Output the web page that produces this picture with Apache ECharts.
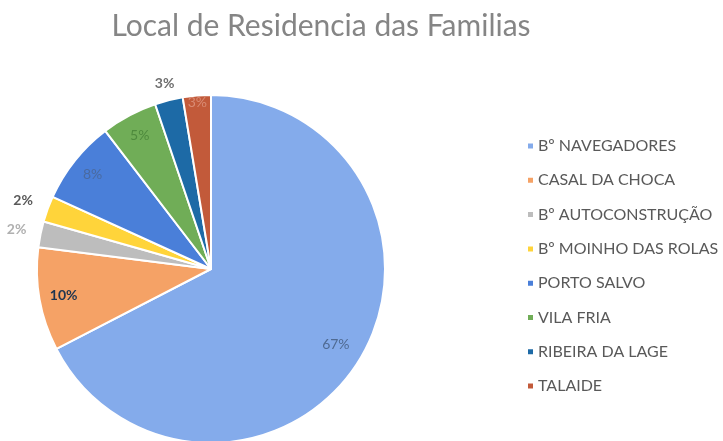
<!DOCTYPE html>
<html>
<head>
<meta charset="utf-8">
<script src="https://cdn.jsdelivr.net/npm/echarts@6/dist/echarts.min.js"></script>
<style>
  html, body { margin: 0; padding: 0; background: #fff; }
  #chart { width: 723px; height: 441px; }
</style>
</head>
<body>
<div id="chart"></div>
<script>
// data (share of families, %)
const titleText = 'Local de Residencia das Familias'
const places = ['Bº NAVEGADORES', 'CASAL DA CHOCA', 'Bº AUTOCONSTRUÇÃO', 'Bº MOINHO DAS ROLAS',
                'PORTO SALVO', 'VILA FRIA', 'RIBEIRA DA LAGE', 'TALAIDE']
const shares = [67.4, 9.6, 2.4, 2.4, 7.8, 5.2, 2.6, 2.6]

const colors = ['#84abeb', '#f5a266', '#bdbdbd', '#ffd43a', '#4a7fd9', '#70ad57', '#1d6aa6', '#c25a3a']
// where each label sits, as a fraction of the radius, and its colour
const labelRadius = [0.84, 0.86, 1.14, 1.15, 0.87, 0.87, 1.1, 0.96]
const labelColors = ['#4f6a92', '#1f3550', '#b0b0b0', '#595959', '#4a6aa0', '#4e8a3d', '#6f6f6f', '#d98b74']
const labelBold = [false, true, true, true, false, false, true, false]

const cx = 211, cy = 269, R = 174

const chart = echarts.init(document.getElementById('chart'))

const total = shares.reduce((a, b) => a + b, 0)
const midAngles = []
let acc = 0
shares.forEach((v) => {
  midAngles.push((acc + v / 2) / total * Math.PI * 2)
  acc += v
})

const option = {
  animation: false
  , color: colors
  , title: {
    text: titleText
    , left: 316
    , textAlign: 'center'
    , top: 6
    , textStyle: {
      fontFamily: 'Lato'
      , fontSize: 30
      , fontWeight: 'normal'
      , color: '#858585'
    }
  }
  , legend: {
    orient: 'vertical'
    , left: 521
    , top: 133
    , itemWidth: 7
    , itemHeight: 7
    , itemGap: 18.3
    , icon: 'rect'
    , textStyle: {
      fontFamily: 'Lato'
      , fontSize: 16
      , color: '#595959'
      , padding: [0, 0, 0, -1]
    }
    , data: places
  }
  , series: [{
    type: 'pie'
    , center: [cx, cy]
    , radius: R
    , startAngle: 90
    , clockwise: true
    , itemStyle: { borderColor: '#fff', borderWidth: 2 }
    , label: {
      show: true
      , position: 'inside'
      , fontFamily: 'Lato'
      , fontSize: 14
      , formatter: (p) => Math.round(p.percent) + '%'
    }
    , labelLine: { show: false }
    , emphasis: { disabled: true }
    , labelLayout: (p) => {
      const i = p.dataIndex
      const a = midAngles[i]
      return {
        x: cx + Math.sin(a) * R * labelRadius[i]
        , y: cy - Math.cos(a) * R * labelRadius[i]
        , align: 'center'
        , verticalAlign: 'middle'
      }
    }
    , data: places.map((name, i) => ({
      name: name
      , value: shares[i]
      , label: {
        color: labelColors[i]
        , fontWeight: labelBold[i] ? 'bold' : 'normal'
      }
    }))
  }]
}

chart.setOption(option)
</script>
</body>
</html>
